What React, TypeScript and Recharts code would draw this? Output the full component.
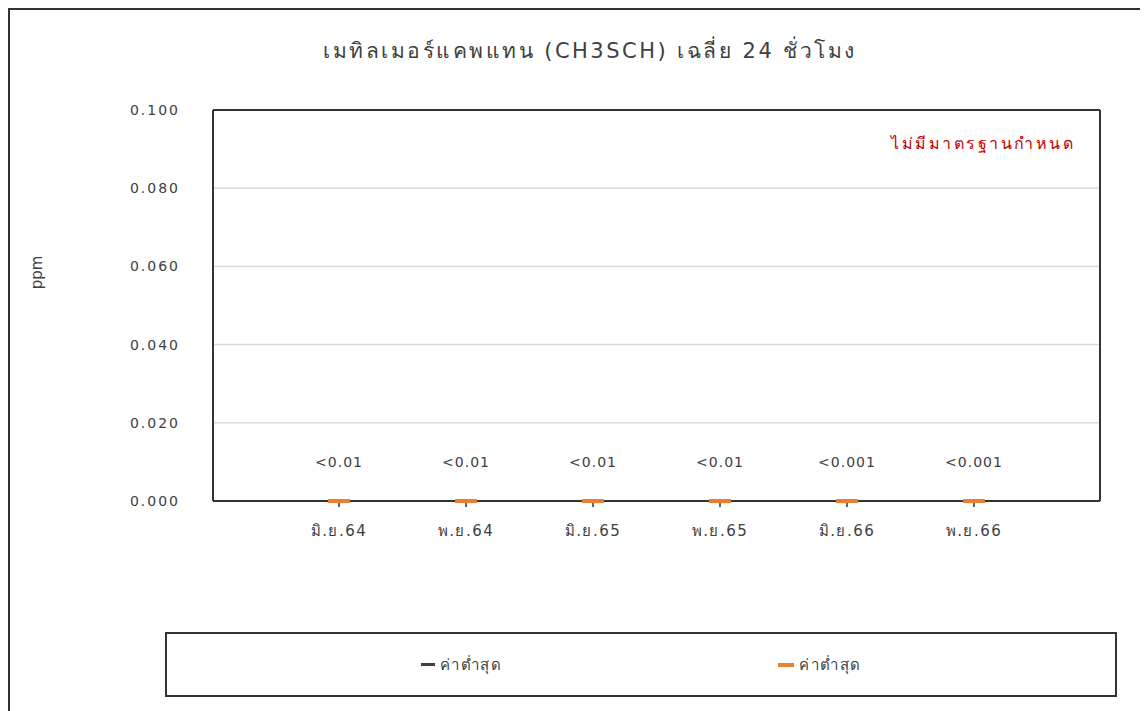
import React from "react";
import { ComposedChart, Line, XAxis, YAxis, CartesianGrid, LabelList, Label } from "recharts";

// Colours (Excel-style export).
const FRAME = "#333333";
const GRID = "#d9d9d9";
const TEXT = "#404040";
const MAX_C = "#404040";
const MIN_C = "#ed7d31";
const NOTE = "#c00000";
const FONT = "'DejaVu Sans', 'Noto Sans', sans-serif";

// ── Data ─────────────────────────────────────────────────────────────
const months = ["มิ.ย.64", "พ.ย.64", "มิ.ย.65", "พ.ย.65", "มิ.ย.66", "พ.ย.66"];
const maxValues = [0, 0, 0, 0, 0, 0];
const minValues = [0, 0, 0, 0, 0, 0];
const valueLabels = ["<0.01", "<0.01", "<0.01", "<0.01", "<0.001", "<0.001"];
const yTicks = [0, 0.02, 0.04, 0.06, 0.08, 0.1];
const seriesNames = ["ค่าต่ำสุด", "ค่าต่ำสุด"];
const title = "เมทิลเมอร์แคพแทน (CH3SCH) เฉลี่ย 24 ชั่วโมง";
const note = "ไม่มีมาตรฐานกำหนด";

const data = months.map((m, i) => ({ month: m, max: maxValues[i], min: minValues[i], label: valueLabels[i] }));

// short horizontal dash marker, like the Excel "dash" point style
const dash = (color: string, w: number, h: number) => (p: any) => (
  <rect key={`${color}-${p.index}`} x={p.cx - w / 2} y={p.cy - h / 2} width={w} height={h} fill={color} />
);

const legendItems = [
  { name: seriesNames[0], color: MAX_C, w: 14, h: 3 },
  { name: seriesNames[1], color: MIN_C, w: 16, h: 4 },
];

export default function App() {
  return (
    <div
      style={{
        position: "relative",
        width: 1140,
        height: 703,
        borderTop: `2px solid ${FRAME}`,
        borderLeft: `2px solid ${FRAME}`,
        boxSizing: "border-box",
        background: "#fff",
        fontFamily: FONT,
      }}
    >
      <div
        style={{ position: "absolute", left: 0, top: 24, width: 1160, textAlign: "center", fontSize: 21, letterSpacing: 2.5, color: TEXT }}
      >
        {title}
      </div>
      <div style={{ position: "absolute", right: 73, top: 121, fontSize: 16, letterSpacing: 2.5, color: NOTE }}>{note}</div>

      <div style={{ position: "absolute", left: 0, top: 0 }}>
        <ComposedChart width={1130} height={570} data={data} margin={{ top: 99, right: 39, bottom: 0, left: 0 }}>
          <CartesianGrid vertical={false} stroke={GRID} strokeWidth={1.5} />
          <XAxis
            dataKey="month"
            scale="point"
            padding={{ left: 126, right: 126 }}
            height={79}
            axisLine={{ stroke: FRAME, strokeWidth: 2 }}
            tickLine={{ stroke: FRAME, strokeWidth: 1.5 }}
            tickSize={6}
            tickMargin={18}
            tick={{ fill: TEXT, fontSize: 15, fontFamily: FONT, letterSpacing: 1.5 }}
            interval={0}
          />
          <XAxis
            xAxisId="top"
            orientation="top"
            dataKey="month"
            scale="point"
            height={1}
            tick={false}
            tickLine={false}
            axisLine={{ stroke: FRAME, strokeWidth: 2 }}
          />
          <YAxis
            domain={[0, 0.1]}
            ticks={yTicks}
            width={203}
            tickFormatter={(v: number) => v.toFixed(3)}
            axisLine={{ stroke: FRAME, strokeWidth: 2 }}
            tickLine={false}
            tickSize={6}
            tickMargin={27}
            tick={{ fill: TEXT, fontSize: 14, fontFamily: FONT, letterSpacing: 2 }}
          >
            <Label
              content={(p: any) => {
                const vb = p.viewBox;
                const x = vb.x + 27;
                const y = vb.y + vb.height / 2 - 33;
                return (
                  <text x={x} y={y} transform={`rotate(-90 ${x} ${y})`} textAnchor="middle" dominantBaseline="middle" fill={TEXT} fontSize={15} fontFamily={FONT}>
                    ppm
                  </text>
                );
              }}
            />
          </YAxis>
          <YAxis
            yAxisId="right"
            orientation="right"
            domain={[0, 0.1]}
            width={1}
            tick={false}
            tickLine={false}
            axisLine={{ stroke: FRAME, strokeWidth: 2 }}
          />
          <Line dataKey="max" name={seriesNames[0]} stroke="none" dot={dash(MAX_C, 14, 3)} activeDot={false} isAnimationActive={false} />
          <Line dataKey="min" name={seriesNames[1]} stroke="none" dot={dash(MIN_C, 22, 4)} activeDot={false} isAnimationActive={false}>
            <LabelList
              dataKey="label"
              content={(p: any) => (
                <text x={p.x} y={p.y - 38} textAnchor="middle" dominantBaseline="middle" fill={TEXT} fontSize={14} fontFamily={FONT} letterSpacing={1}>
                  {p.value}
                </text>
              )}
            />
          </Line>
        </ComposedChart>
      </div>

      {/* legend box */}
      <div
        style={{
          position: "absolute",
          left: 155,
          top: 622,
          width: 952,
          height: 65,
          border: `2px solid ${FRAME}`,
          boxSizing: "border-box",
          display: "flex",
          alignItems: "center",
          justifyContent: "center",
          gap: 276,
          fontSize: 15,
          letterSpacing: 1.5,
          color: TEXT,
        }}
      >
        {legendItems.map((it, i) => (
          <div key={i} style={{ display: "flex", alignItems: "center", gap: 5 }}>
            <span style={{ display: "inline-block", width: it.w, height: it.h, background: it.color }} />
            <span>{it.name}</span>
          </div>
        ))}
      </div>
    </div>
  );
}
